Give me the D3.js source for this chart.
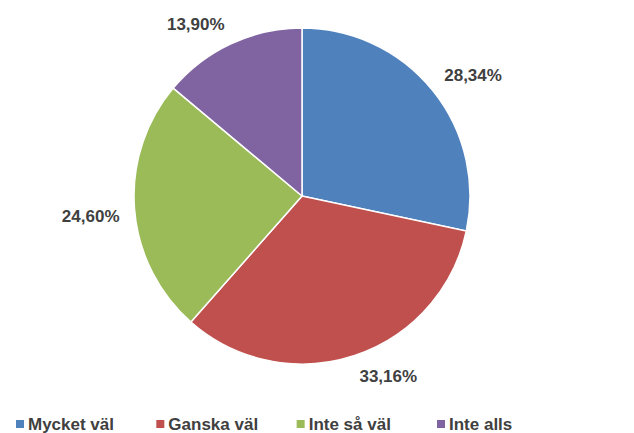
<!DOCTYPE html>
<html>
<head>
<meta charset="utf-8">
<script src="https://cdn.jsdelivr.net/npm/d3@7"></script>
<style>
  body { margin: 0; background: #fff; }
  text { font-family: "Liberation Sans", Arial, sans-serif; font-weight: bold; fill: #404040; }
</style>
</head>
<body>
<script>
// datos del gráfico
var categorias = ["Mycket väl", "Ganska väl", "Inte så väl", "Inte alls"];
var valores = [28.34, 33.16, 24.60, 13.90];
var etiquetas = ["28,34%", "33,16%", "24,60%", "13,90%"];
var colores = ["#4F81BD", "#C0504D", "#9BBB59", "#8064A2"];

var width = 634;
var height = 433;
var centro = { x: 302, y: 196 };
var radio = 168;

var svg = d3.select("body")
    .append("svg")
    .attr("width", width)
    .attr("height", height);

var datos = categorias.map(function (c, i) {
    return { categoria: c, valor: valores[i], etiqueta: etiquetas[i], color: colores[i] };
});

var pie = d3.pie()
    .sort(null)
    .value(function (d) { return d.valor; });

var arco = d3.arc()
    .innerRadius(0)
    .outerRadius(radio);

// la esquina más cercana de cada etiqueta queda sobre este radio
var arcoEtiqueta = d3.arc()
    .innerRadius(radio + 15)
    .outerRadius(radio + 15);

var g = svg.append("g")
    .attr("transform", "translate(" + centro.x + "," + centro.y + ")");

var porciones = pie(datos);

g.selectAll("path")
    .data(porciones)
    .join("path")
    .attr("d", arco)
    .attr("fill", function (d) { return d.data.color; })
    .attr("stroke", "#fff")
    .attr("stroke-width", 1.5);

function angMedio(d) { return (d.startAngle + d.endAngle) / 2; }

g.selectAll("text.etiqueta")
    .data(porciones)
    .join("text")
    .attr("class", "etiqueta")
    .attr("x", function (d) { return arcoEtiqueta.centroid(d)[0]; })
    .attr("y", function (d) {
        var p = arcoEtiqueta.centroid(d);
        return Math.cos(angMedio(d)) > 0 ? p[1] : p[1] + 12.5;
    })
    .attr("text-anchor", function (d) { return Math.sin(angMedio(d)) > 0 ? "start" : "end"; })
    .style("font-size", "17px")
    .text(function (d) { return d.data.etiqueta; });

// leyenda
var posLeyenda = d3.scalePoint()
    .domain(categorias)
    .range([16, 437]);

var leyenda = svg.selectAll("g.leyenda")
    .data(datos)
    .join("g")
    .attr("class", "leyenda")
    .attr("transform", function (d) { return "translate(" + posLeyenda(d.categoria) + ",424)"; });

leyenda.append("rect")
    .attr("x", 0)
    .attr("y", -4)
    .attr("width", 8)
    .attr("height", 8)
    .attr("fill", function (d) { return d.color; });

leyenda.append("text")
    .attr("x", 12)
    .attr("dy", "0.36em")
    .style("font-size", "17px")
    .text(function (d) { return d.categoria; });
</script>
</body>
</html>
